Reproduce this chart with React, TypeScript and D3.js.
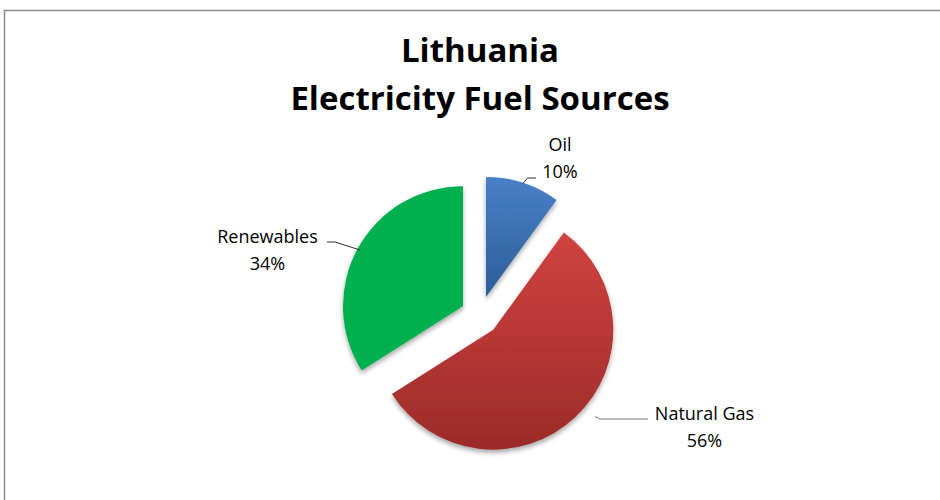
import React from "react";
import * as d3 from "d3";

const categories = ["Oil", "Natural Gas", "Renewables"];
const values = [10, 56, 34];
const colorsTop = ["#4a80c8", "#cf4340", "#00b050"];
const colorsBottom = ["#2c5d98", "#9b2b29", "#00b050"];
// label anchor positions (first-line baseline) relative to pie center (layout)
const labelOffsets: [number, number][] = [
  [80, -164.5],
  [224.5, 104.5],
  [-212.5, -72.5],
];
// leader lines relative to center
const leaders: [number, number][][] = [
  [[43, -132], [47.5, -137.5], [56, -137.5]],
  [[115, 101], [120, 103.5], [168, 103.5]],
  [[-120, -65.5], [-145, -73.5], [-153, -73.5]],
];

const W = 940;
const H = 500;
const cx = 480;
const cy = 315.5;
const R = 120;
const explode = 19.4;

export default function App() {
  const pie = d3.pie<number>().sort(null).value((d) => d);
  const arcs = pie(values);
  const arc = d3.arc<d3.PieArcDatum<number>>().innerRadius(0).outerRadius(R);
  const font = "'Open Sans', 'Noto Sans', sans-serif";
  return (
    <svg width={W} height={H} style={{ position: "absolute", left: 0, top: 0 }}>
      <defs>
        {values.map((_, i) => (
          <linearGradient key={i} id={`g${i}`} x1="0" y1="0" x2="0" y2="1">
            <stop offset="0%" stopColor={colorsTop[i]} />
            <stop offset="100%" stopColor={colorsBottom[i]} />
          </linearGradient>
        ))}
        <filter id="sh" x="-20%" y="-20%" width="140%" height="140%">
          <feGaussianBlur in="SourceAlpha" stdDeviation="2.5" />
          <feOffset dx="0" dy="3" result="b" />
          <feComponentTransfer>
            <feFuncA type="linear" slope="0.35" />
          </feComponentTransfer>
          <feMerge>
            <feMergeNode />
            <feMergeNode in="SourceGraphic" />
          </feMerge>
        </filter>
      </defs>
      <rect x={0} y={0} width={W} height={H} fill="#fff" />
      <rect x={4.5} y={10.5} width={W + 20} height={H + 20} fill="#fff" stroke="#8c8c8c" strokeWidth={1.5} />
      <text x={480} y={62} textAnchor="middle" fontFamily={font} fontWeight="bold" fontSize={33} fill="#000">
        Lithuania
      </text>
      <text x={480} y={110} textAnchor="middle" fontFamily={font} fontWeight="bold" fontSize={33} fill="#000">
        Electricity Fuel Sources
      </text>
      <g transform={`translate(${cx},${cy})`}>
        {arcs.map((a, i) => {
          const mid = (a.startAngle + a.endAngle) / 2;
          const ox = Math.sin(mid) * explode;
          const oy = -Math.cos(mid) * explode;
          return (
            <path
              key={i}
              d={arc(a) || ""}
              transform={`translate(${ox},${oy})`}
              fill={`url(#g${i})`}
              filter="url(#sh)"
            />
          );
        })}
        {leaders.map((pts, i) => (
          <path
            key={"l" + i}
            d={d3.line()(pts) || ""}
            fill="none"
            stroke={i === 1 ? "#777" : "#333"}
            strokeWidth={1}
          />
        ))}
        {categories.map((c, i) => {
          const [lx, ly] = labelOffsets[i];
          return (
            <text key={"t" + i} textAnchor="middle" fontFamily={font} fontSize={18} fill="#000">
              <tspan x={lx} y={ly}>
                {c}
              </tspan>
              <tspan x={lx} y={ly + 27}>
                {values[i]}%
              </tspan>
            </text>
          );
        })}
      </g>
    </svg>
  );
}
